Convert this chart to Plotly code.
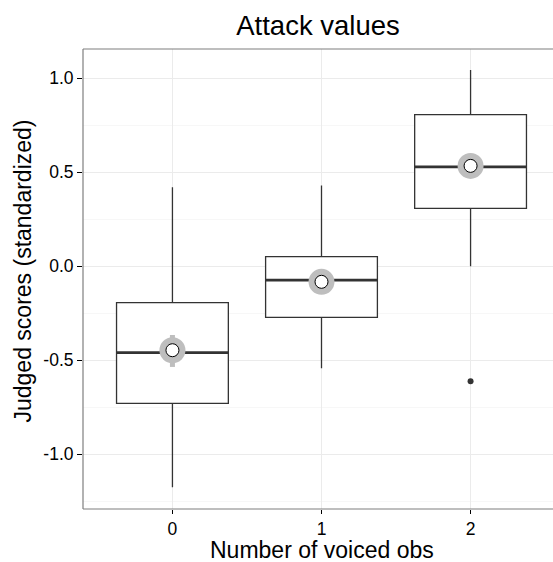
import plotly.graph_objects as go

# ---- data ----
categories = [0, 1, 2]
q1 = [-0.730, -0.272, 0.308]
median = [-0.460, -0.074, 0.529]
q3 = [-0.194, 0.051, 0.807]
lower_whisker = [-1.176, -0.543, 0.000]
upper_whisker = [0.420, 0.430, 1.044]
means = [-0.447, -0.083, 0.534]
ci_low = [-0.536, -0.120, 0.500]
ci_high = [-0.366, -0.045, 0.570]
outlier_x = [2]
outlier_y = [-0.612]
x_tick_labels = ["0", "1", "2"]
y_tick_vals = [-1.0, -0.5, 0.0, 0.5, 1.0]
y_tick_labels = ["-1.0", "-0.5", "0.0", "0.5", "1.0"]

BOX_W = 0.75
LINE_C = "#333333"
FONT = "Liberation Sans, Arial, sans-serif"

fig = go.Figure()

fig.add_trace(go.Box(
    x=categories, q1=q1, median=median, q3=q3,
    lowerfence=lower_whisker, upperfence=upper_whisker,
    width=BOX_W, whiskerwidth=0,
    fillcolor="white", line=dict(color=LINE_C, width=1.3),
    boxpoints=False, showlegend=False, hoverinfo="skip",
))

# thicker median lines
for c, m in zip(categories, median):
    fig.add_trace(go.Scatter(
        x=[c - BOX_W / 2, c + BOX_W / 2], y=[m, m], mode="lines",
        line=dict(color=LINE_C, width=2.8), showlegend=False, hoverinfo="skip",
    ))

# outlier
fig.add_trace(go.Scatter(
    x=outlier_x, y=outlier_y, mode="markers",
    marker=dict(color=LINE_C, size=6), showlegend=False,
))

# summary: grey pointrange
for c, lo, hi in zip(categories, ci_low, ci_high):
    fig.add_trace(go.Scatter(
        x=[c, c], y=[lo, hi], mode="lines",
        line=dict(color="#BEBEBE", width=5), showlegend=False, hoverinfo="skip",
    ))
fig.add_trace(go.Scatter(
    x=categories, y=means, mode="markers",
    marker=dict(color="#BEBEBE", size=26, line=dict(width=0)), showlegend=False,
))
fig.add_trace(go.Scatter(
    x=categories, y=means, mode="markers",
    marker=dict(color="white", size=13, line=dict(color="black", width=1)),
    showlegend=False,
))

border = dict(color="#7F7F7F", width=1.2)
fig.update_layout(
    width=553, height=562,
    margin=dict(l=83, r=0, t=49, b=53, autoexpand=False),
    paper_bgcolor="white", plot_bgcolor="white",
    font=dict(family=FONT, color="black"),
    title=dict(text="Attack values", x=0.5, xref="paper", xanchor="center",
               y=1 - 25 / 562, yref="container", yanchor="middle",
               font=dict(size=27.5, color="black")),
    xaxis=dict(
        range=[-0.6, 2.553], tickvals=categories, ticktext=x_tick_labels,
        showgrid=True, gridcolor="#EBEBEB", gridwidth=1,
        zeroline=False, showline=False, automargin=False,
        ticks="outside", ticklen=4, tickcolor="black", tickwidth=1,
        tickfont=dict(size=17.5, color="black"),
    ),
    yaxis=dict(
        range=[-1.292, 1.156], tickvals=y_tick_vals, ticktext=y_tick_labels,
        showgrid=True, gridcolor="#EBEBEB", gridwidth=1,
        minor=dict(showgrid=True, gridcolor="#F7F7F7", gridwidth=1, dtick=0.25, tick0=0.25),
        zeroline=False, showline=False, automargin=False,
        ticks="outside", ticklen=5, tickcolor="black", tickwidth=1,
        tickfont=dict(size=17.5, color="black"),
    ),
    annotations=[
        dict(text="Number of voiced obs", xref="paper", yref="paper",
             x=(321.5 - 83) / 470, y=-(550 - 509.5) / 460, xanchor="center", yanchor="middle",
             showarrow=False, font=dict(size=23, color="black")),
        dict(text="Judged scores (standardized)", xref="paper", yref="paper",
             x=-(83 - 22) / 470, y=(509.5 - 272) / 460, xanchor="center", yanchor="middle",
             textangle=-90, showarrow=False, font=dict(size=23, color="black")),
    ],
    shapes=[
        dict(type="line", xref="paper", yref="paper", x0=0, x1=0, y0=0, y1=1, line=border, layer="above"),
        dict(type="line", xref="paper", yref="paper", x0=0, x1=1.2, y0=1, y1=1, line=border, layer="above"),
        dict(type="line", xref="paper", yref="paper", x0=0, x1=1.2, y0=0, y1=0, line=border, layer="above"),
    ],
)

fig.write_html(
    "out.html",
    config={"displayModeBar": False},
    post_script="document.body.style.margin='0';document.body.style.overflow='hidden';",
)
